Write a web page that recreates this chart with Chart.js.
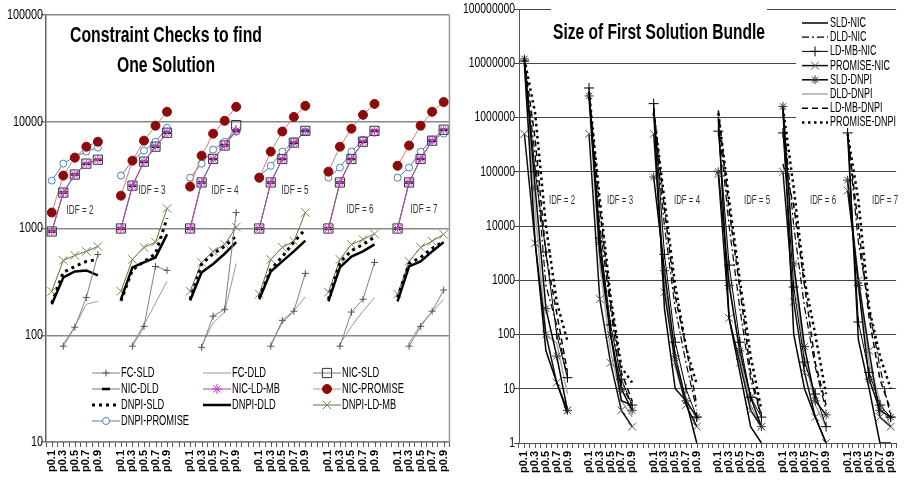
<!DOCTYPE html>
<html>
<head>
<meta charset="utf-8">
<script src="https://cdn.jsdelivr.net/npm/chart.js@4/dist/chart.umd.min.js"></script>
<style>
  html, body { margin: 0; padding: 0; background: #fff; }
  #wrap { position: relative; width: 907px; height: 491px; overflow: hidden; background: #fff; }
  #left { position: absolute; left: 0; top: 0; }
  #right { position: absolute; left: 460px; top: 0; }
</style>
</head>
<body>
<div id="wrap">
  <canvas id="left" width="460" height="491"></canvas>
  <canvas id="right" width="447" height="491"></canvas>
</div>
<script>
// ---- categories ----
const steps = ['p0.1', 'p0.3', 'p0.5', 'p0.7', 'p0.9'];
const idfValues = [2, 3, 4, 5, 6, 7];

// ---- left panel: constraint checks to find one solution (one row per IDF group) ----
const fcSLD = [
  [null, 79, 119, 226, 571],
  [null, 79, 121, 441, 405],
  [null, 77, 151, 175, 1410],
  [null, 79, 138, 168, 380],
  [null, 79, 165, 217, 481],
  [null, 79, 121, 168, 265]
];
const fcDLD = [
  [null, 83, 121, 195, 208],
  [null, 83, 125, 200, 320],
  [null, 80, 130, 165, 470],
  [null, 83, 130, 168, 230],
  [null, 83, 121, 168, 226],
  [null, 85, 126, 165, 217]
];
const nicSLD = [
  [938, 2170, 3200, 4050, 4410],
  [1000, 2520, 4230, 5840, 7890],
  [1000, 2700, 4480, 5990, 9300],
  [1000, 2700, 4480, 6370, 8220],
  [1000, 2700, 4480, 6500, 8220],
  [1000, 2700, 4480, 6650, 8420]
];
const nicDLD = [
  [938, 2170, 3200, 4050, 4410],
  [1000, 2520, 4230, 5840, 7890],
  [1000, 2700, 4480, 5990, 8200],
  [1000, 2700, 4480, 6370, 8220],
  [1000, 2700, 4480, 6500, 8220],
  [1000, 2700, 4480, 6650, 8420]
];
const nicLDMB = [
  [938, 2170, 3200, 4050, 4410],
  [1000, 2520, 4230, 5840, 7890],
  [1000, 2700, 4480, 5990, 8200],
  [1000, 2700, 4480, 6370, 8220],
  [1000, 2700, 4480, 6500, 8220],
  [1000, 2700, 4480, 6650, 8420]
];
const nicPROMISE = [
  [1410, 3130, 4610, 5840, 6500],
  [2030, 4320, 6650, 9180, 12400],
  [2470, 4810, 7730, 10200, 13800],
  [2990, 5250, 8100, 11100, 14100],
  [3410, 5840, 8610, 11600, 14700],
  [3870, 5990, 9180, 12400, 15300]
];
const dnpiSLD = [
  [200, 388, 441, 492, 513],
  [210, 410, 490, 580, 1250],
  [217, 465, 580, 680, 850],
  [226, 414, 545, 745, 990],
  [217, 481, 620, 710, 830],
  [226, 470, 536, 650, 760]
];
const dnpiDLD = [
  [195, 348, 396, 405, 364],
  [217, 432, 481, 536, 880],
  [212, 388, 465, 580, 745],
  [217, 396, 492, 610, 770],
  [208, 432, 545, 610, 710],
  [208, 441, 492, 610, 745]
];
const dnpiLDMB = [
  [258, 502, 560, 610, 679],
  [258, 513, 665, 744, 1540],
  [258, 481, 610, 710, 1030],
  [243, 513, 665, 760, 1410],
  [253, 513, 710, 790, 890],
  [243, 492, 665, 760, 880]
];
const dnpiPROMISE = [
  [2810, 4050, 4710, 5250, 5720],
  [3130, 4320, 5360, 6500, 8790],
  [2990, 4050, 5480, 6500, 8100],
  [3060, 3870, 5250, 6500, 8100],
  [2990, 3720, 5250, 6790, 7890],
  [2990, 3720, 5250, 6790, 7730]
];
const leftTicks = [10, 100, 1000, 10000, 100000];

// ---- right panel: size of first solution bundle ----
const sldNIC = [
  [1.0e7, 5000, 50, 13, 3.5],
  [3.0e6, 3000, 100, 6, 5],
  [1.5e6, 300, 10, 6, 1],
  [1.0e6, 200, 20, 2, 1],
  [1.4e6, 100, 10, 3, 1],
  [5.0e5, 80, 10, 1, 1]
];
const dldNIC = [
  [9.0e6, 2.0e5, 800, 150, 15],
  [2.5e6, 1.0e4, 300, 12, 5],
  [1.2e6, 1.0e4, 300, 30, 4],
  [9.0e5, 1.0e4, 300, 15, 3],
  [1.2e6, 1.0e4, 320, 25, 4],
  [5.0e5, 5000, 300, 25, 3]
];
const ldmbNIC = [
  [1.1e7, 1.0e5, 3300, 100, 16],
  [3.5e6, 6000, 150, 15, 5],
  [1.8e6, 3000, 72, 10, 3],
  [5.6e5, 1900, 72, 7, 3],
  [5.2e5, 750, 31, 8, 2],
  [5.2e5, 170, 20, 5, 3]
];
const promiseNIC = [
  [5.0e5, 4800, 100, 13, 4],
  [5.0e5, 450, 30, 4, 2],
  [5.0e5, 600, 30, 5, 2],
  [9.0e4, 200, 30, 4, 2],
  [1.0e5, 400, 20, 3, 1],
  [4.5e4, 1000, 50, 3, 2]
];
const sldDNPI = [
  [1.2e7, 5.0e4, 300, 40, 4],
  [2.5e6, 5000, 100, 10, 4],
  [8.0e4, 1500, 40, 6, 3],
  [1.0e5, 800, 50, 7, 2],
  [1.6e6, 2000, 60, 6, 3.3],
  [7.0e4, 800, 15, 4, 3]
];
const dldDNPI = [
  [8.0e6, 2.0e4, 100, 70, 8],
  [2.0e6, 2000, 50, 6, 3],
  [1.0e6, 1000, 25, 5, 2],
  [8.0e5, 1000, 40, 5, 2],
  [1.3e6, 1500, 40, 5, 2],
  [6.0e4, 1200, 30, 6, 2]
];
const ldmbDNPI = [
  [1.1e7, 4.0e5, 3000, 250, 20],
  [3.0e6, 2.0e4, 400, 20, 6],
  [1.5e6, 2.0e4, 500, 60, 5],
  [1.35e6, 2.0e4, 700, 20, 3],
  [1.4e5, 2.4e4, 800, 30, 5],
  [5.0e5, 1.0e4, 200, 15, 4]
];
const promiseDNPI = [
  [1.2e7, 1.2e6, 1.0e4, 400, 75],
  [3.0e6, 3.0e4, 500, 25, 13],
  [1.2e6, 3.0e4, 800, 58, 12],
  [1.2e6, 3.0e4, 1000, 40, 4],
  [1.5e6, 5.0e4, 1000, 100, 8],
  [5.0e5, 3.0e4, 300, 40, 10]
];
const rightTicks = [1, 10, 100, 1000, 10000, 100000, 1000000, 10000000, 100000000];

// ---- texts ----
const leftTitle = ['Constraint Checks to find', 'One Solution'];
const rightTitle = 'Size of First Solution Bundle';
const idfText = idfValues.map(v => 'IDF = ' + v);

// ---- helpers ----
const NARROW = '"Liberation Sans Narrow", "Arial Narrow", "Liberation Sans", Arial, sans-serif';
const ARIAL = '"Liberation Sans", Arial, sans-serif';

function buildLabels() {
  const out = [];
  idfValues.forEach((_, g) => { if (g > 0) out.push(''); out.push(...steps); });
  return out;
}
function flatten(groups) {
  const out = [];
  groups.forEach((vals, g) => { if (g > 0) out.push(null); out.push(...vals); });
  return out;
}
function series(label, groups, style) {
  return Object.assign({
    label, data: flatten(groups), spanGaps: false, tension: 0, fill: false,
    borderWidth: 1, pointRadius: 0, pointHoverRadius: 0, pointBorderWidth: 1,
    pointBackgroundColor: 'rgba(0,0,0,0)', order: 1
  }, style);
}

// horizontal squeeze so that `sample` set in `font` is `width` px wide
function squeezeFor(ctx, font, sample, width) {
  ctx.save();
  ctx.font = font;
  const w = ctx.measureText(sample).width;
  ctx.restore();
  return width / w;
}
function stretchText(ctx, text, x, y, font, align, sx, sy, color) {
  ctx.save();
  ctx.font = font;
  ctx.fillStyle = color || '#000';
  ctx.textAlign = align;
  ctx.textBaseline = 'middle';
  ctx.translate(x, y);
  ctx.scale(sx, sy);
  ctx.fillText(text, 0, 0);
  ctx.restore();
}
function fitText(ctx, text, cx, cy, font, width, sy, color) {
  stretchText(ctx, text, cx, cy, font, 'center', squeezeFor(ctx, font, text, width), sy, color);
}

function drawSample(ctx, ds, x0, x1, y) {
  ctx.save();
  ctx.strokeStyle = ds.borderColor;
  ctx.lineWidth = ds.borderWidth;
  ctx.setLineDash(ds.borderDash || []);
  ctx.beginPath(); ctx.moveTo(x0, y); ctx.lineTo(x1, y); ctx.stroke();
  ctx.setLineDash([]);
  if (ds.pointStyle && ds.pointRadius > 0) {
    ctx.strokeStyle = ds.pointBorderColor || ds.borderColor;
    ctx.fillStyle = ds.pointBackgroundColor || 'rgba(0,0,0,0)';
    ctx.lineWidth = ds.pointBorderWidth;
    Chart.helpers.drawPoint(ctx, {
      pointStyle: ds.pointStyle, radius: ds.pointRadius, rotation: 0, borderWidth: ds.pointBorderWidth
    }, (x0 + x1) / 2, y);
  }
  ctx.restore();
}

// small marks at category centres, in addition to the boundary ticks
function centreTicks(chart) {
  const xs = chart.scales.x, ctx = chart.ctx, b = chart.chartArea.bottom;
  ctx.save();
  ctx.strokeStyle = '#555';
  ctx.lineWidth = 1;
  for (let i = 0; i < xs.getLabels().length; i++) {
    const px = Math.round(xs.getPixelForValue(i)) + 0.5;
    ctx.beginPath(); ctx.moveTo(px, b); ctx.lineTo(px, b + 5); ctx.stroke();
  }
  ctx.restore();
}

// value labels of the log axis, set in a condensed face
function yLabels(chart, values, rightEdge, font, sample, sampleWidth) {
  const ctx = chart.ctx, ys = chart.scales.y;
  const sx = squeezeFor(ctx, font, sample, sampleWidth);
  values.forEach(v => {
    stretchText(ctx, String(v), rightEdge, ys.getPixelForValue(v), font, 'right', sx, 1.08, '#000');
  });
}

const labels = buildLabels();

// ================= LEFT =================
const leftSets = [
  series('FC-SLD', fcSLD, { borderColor: '#808080', pointStyle: 'cross', pointRadius: 3.5, pointBorderColor: '#555' }),
  series('FC-DLD', fcDLD, { borderColor: '#9a9a9a' }),
  series('NIC-SLD', nicSLD, { borderColor: '#7a7a7a', pointStyle: 'rect', pointRadius: 6.5, pointBorderColor: '#333' }),
  series('NIC-DLD', nicDLD, { borderColor: '#7a7a7a', pointStyle: 'line', pointRadius: 4, pointBorderColor: '#000', pointBorderWidth: 2.5 }),
  series('NIC-LD-MB', nicLDMB, { borderColor: '#B048B0', pointStyle: 'star', pointRadius: 5, pointBorderColor: '#C040C0', order: 0 }),
  series('NIC-PROMISE', nicPROMISE, { borderColor: '#E07878', pointStyle: 'circle', pointRadius: 4.5, pointBackgroundColor: '#8B0A0A', pointBorderColor: '#8B0A0A' }),
  series('DNPI-SLD', dnpiSLD, { borderColor: '#000', borderWidth: 3, borderDash: [3, 4] }),
  series('DNPI-DLD', dnpiDLD, { borderColor: '#000', borderWidth: 2.5 }),
  series('DNPI-LD-MB', dnpiLDMB, { borderColor: '#4E7A36', pointStyle: 'crossRot', pointRadius: 6, pointBorderColor: '#6E8E50' }),
  series('DNPI-PROMISE', dnpiPROMISE, { borderColor: '#4F7FB8', pointStyle: 'circle', pointRadius: 3.5, pointBackgroundColor: '#fff', pointBorderColor: '#4F7FB8' })
];

const leftIdfPos = [[80, 210], [152, 190], [225, 190], [295, 190], [360, 209], [424, 209]];
const leftLegendCols = [92, 203, 313];
const leftLegendRows = [373, 389, 405, 421];

const leftDecor = {
  id: 'leftDecor',
  afterDraw(chart) {
    const ctx = chart.ctx, a = chart.chartArea;
    centreTicks(chart);
    yLabels(chart, leftTicks, 43, '13px ' + NARROW, '100000', 36);
    ctx.save();
    ctx.strokeStyle = '#999'; ctx.lineWidth = 1.5;
    ctx.beginPath(); ctx.moveTo(a.right, a.top); ctx.lineTo(a.right, a.bottom); ctx.stroke();
    ctx.restore();
    fitText(ctx, leftTitle[0], 166, 36, 'bold 20px ' + NARROW, 192, 1.12, '#000');
    fitText(ctx, leftTitle[1], 166, 66, 'bold 20px ' + NARROW, 98, 1.12, '#000');
    const idfFont = '12px ' + NARROW;
    const sxIdf = squeezeFor(ctx, idfFont, 'IDF = 2', 27);
    idfText.forEach((t, i) => stretchText(ctx, t, leftIdfPos[i][0], leftIdfPos[i][1], idfFont, 'center', sxIdf, 1.1, '#333'));
    const legFont = '12.5px ' + NARROW;
    const sxLeg = squeezeFor(ctx, legFont, 'DNPI-PROMISE', 68);
    leftSets.forEach((ds, i) => {
      const c = i % 3, r = Math.floor(i / 3);
      const x0 = leftLegendCols[c], y = leftLegendRows[r];
      drawSample(ctx, ds, x0, x0 + 28, y);
      stretchText(ctx, ds.label, x0 + 29, y, legFont, 'left', sxLeg, 1.15, '#000');
    });
  }
};

new Chart(document.getElementById('left'), {
  type: 'line',
  data: { labels, datasets: leftSets },
  options: {
    responsive: false, animation: false, devicePixelRatio: 1,
    layout: { padding: { top: 15, right: 9, left: 0, bottom: 0 } },
    plugins: { legend: { display: false }, title: { display: false }, tooltip: { enabled: false } },
    scales: {
      x: {
        type: 'category', offset: true,
        grid: { display: true, drawOnChartArea: false, tickLength: 5, color: '#555', offset: true },
        border: { display: true, color: '#808080', width: 1.5 },
        ticks: { autoSkip: false, minRotation: 90, maxRotation: 90, padding: 3, color: '#000',
                 font: { family: ARIAL, size: 11, weight: 'bold' } },
        afterFit: s => { s.height = 49; }
      },
      y: {
        type: 'logarithmic', min: 10, max: 100000,
        afterBuildTicks: s => { s.ticks = leftTicks.map(v => ({ value: v })); },
        ticks: { display: false },
        grid: { color: '#888', lineWidth: 1.5, tickLength: 5 },
        border: { color: '#666', width: 1.5 },
        afterFit: s => { s.width = 46; }
      }
    }
  },
  plugins: [leftDecor]
});

// ================= RIGHT =================
const rightSets = [
  series('SLD-NIC', sldNIC, { borderColor: '#000', borderWidth: 1.5 }),
  series('DLD-NIC', dldNIC, { borderColor: '#000', borderWidth: 1.2, borderDash: [7, 3, 2, 3] }),
  series('LD-MB-NIC', ldmbNIC, { borderColor: '#000', borderWidth: 1, pointStyle: 'cross', pointRadius: 5, pointBorderColor: '#000' }),
  series('PROMISE-NIC', promiseNIC, { borderColor: '#111', borderWidth: 1.5, pointStyle: 'crossRot', pointRadius: 5.5, pointBorderColor: '#555' }),
  series('SLD-DNPI', sldDNPI, { borderColor: '#000', borderWidth: 1.5, pointStyle: 'star', pointRadius: 4.5, pointBorderColor: '#333' }),
  series('DLD-DNPI', dldDNPI, { borderColor: '#a8a8a8', borderWidth: 1.5 }),
  series('LD-MB-DNPI', ldmbDNPI, { borderColor: '#000', borderWidth: 1.5, borderDash: [6, 4] }),
  series('PROMISE-DNPI', promiseDNPI, { borderColor: '#000', borderWidth: 2.5, borderDash: [2.5, 3.5] })
];

const OX = 460; // page offset of the right canvas
const rightIdfX = [562, 620, 687, 757, 823, 885];

const rightDecor = {
  id: 'rightDecor',
  afterDraw(chart) {
    const ctx = chart.ctx;
    centreTicks(chart);
    yLabels(chart, rightTicks, 55, '13px ' + NARROW, '100000000', 52);
    // title on a white panel
    ctx.save();
    ctx.fillStyle = '#fff';
    ctx.fillRect(551 - OX, 0, 216, 56);
    ctx.restore();
    fitText(ctx, rightTitle, 659 - OX, 33, 'bold 20px ' + NARROW, 212, 1.12, '#000');
    const idfFont = '12px ' + NARROW;
    const sxIdf = squeezeFor(ctx, idfFont, 'IDF = 2', 26);
    idfText.forEach((t, i) => stretchText(ctx, t, rightIdfX[i] - OX, 200, idfFont, 'center', sxIdf, 1.1, '#333'));
    // legend on a white panel
    ctx.save();
    ctx.fillStyle = '#fff';
    ctx.fillRect(796 - OX, 14, 107, 114);
    ctx.restore();
    const legFont = '12.5px ' + NARROW;
    const sxLeg = squeezeFor(ctx, legFont, 'PROMISE-DNPI', 66);
    rightSets.forEach((ds, i) => {
      const y = 23 + i * 14.2;
      drawSample(ctx, ds, 802 - OX, 828 - OX, y);
      stretchText(ctx, ds.label, 830 - OX, y, legFont, 'left', sxLeg, 1.15, '#000');
    });
  }
};

new Chart(document.getElementById('right'), {
  type: 'line',
  data: { labels, datasets: rightSets },
  options: {
    responsive: false, animation: false, devicePixelRatio: 1,
    layout: { padding: { top: 9, right: 0, left: 0, bottom: 0 } },
    plugins: { legend: { display: false }, title: { display: false }, tooltip: { enabled: false } },
    scales: {
      x: {
        type: 'category', offset: true,
        grid: { display: true, drawOnChartArea: false, tickLength: 5, color: '#555', offset: true },
        border: { display: true, color: '#555', width: 1 },
        ticks: { autoSkip: false, minRotation: 90, maxRotation: 90, padding: 3, color: '#000',
                 font: { family: ARIAL, size: 11, weight: 'bold' } },
        afterFit: s => { s.height = 48; }
      },
      y: {
        type: 'logarithmic', min: 1, max: 100000000,
        afterBuildTicks: s => { s.ticks = rightTicks.map(v => ({ value: v })); },
        ticks: { display: false },
        grid: { color: '#444', lineWidth: 1, tickLength: 5 },
        border: { color: '#555', width: 1 },
        afterFit: s => { s.width = 59; }
      }
    }
  },
  plugins: [rightDecor]
});
</script>
</body>
</html>
